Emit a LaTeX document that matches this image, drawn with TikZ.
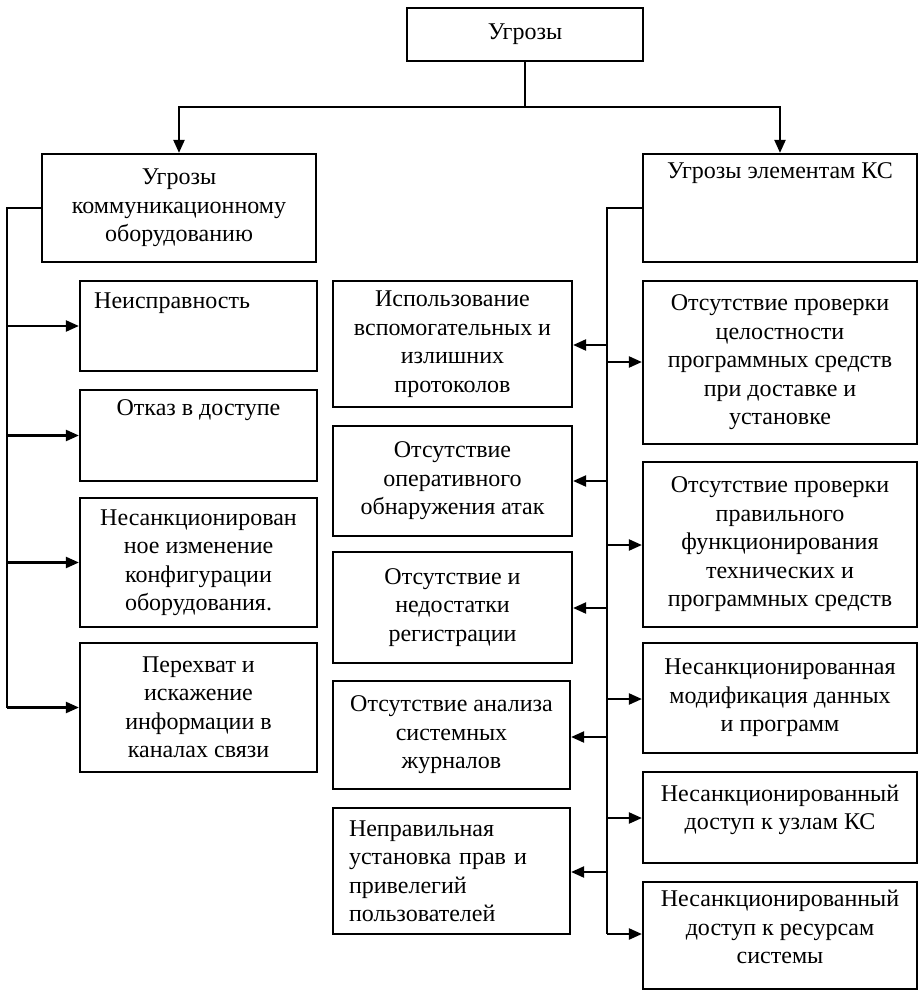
\documentclass[tikz,border=0pt]{standalone}
\usepackage{fontspec}
\setmainfont{Liberation Serif}
\usetikzlibrary{arrows.meta}
\begin{document}
\begin{tikzpicture}[x=1pt,y=-1pt,
  box/.style={draw, line width=2.2pt, inner sep=0pt, align=center, font=\fontsize{24}{28.5}\selectfont},
  txt/.style={inner sep=0pt, font=\fontsize{24}{28.5}\selectfont},
  link/.style={line width=2.2pt},
  arr/.style={line width=2.2pt, -{Triangle[length=13pt,width=11pt]}}]
\useasboundingbox (0,0) rectangle (922,1000);
% top
\node[box, minimum width=236pt, minimum height=53pt] (top) at (525,34.5) {Угрозы};
\node[box, minimum width=274pt, minimum height=108pt] (L) at (179,208) {Угрозы\\коммуникационному\\оборудованию};
\node[box, minimum width=274pt, minimum height=108pt] (R) at (780,208) {};
\node[txt, anchor=center] (Rt) at (780,173) {Угрозы элементам КС};
% left column
\node[box, minimum width=237pt, minimum height=90pt] (l1) at (198.5,326) {};
\node[txt, anchor=west] (l1t) at (94,303) {Неисправность};
\node[box, minimum width=237pt, minimum height=91pt] (l2) at (198.5,435.5) {};
\node[txt] (l2t) at (198.5,410) {Отказ в доступе};
\node[box, minimum width=237pt, minimum height=129pt] (l3) at (198.5,562.5) {Несанкционирован\\ное изменение\\конфигурации\\оборудования.};
\node[box, minimum width=237pt, minimum height=129pt] (l4) at (198.5,707.5) {Перехват и\\искажение\\информации в\\каналах связи};
% middle column
\node[box, minimum width=239pt, minimum height=126pt] (m1) at (452.5,344) {Использование\\вспомогательных и\\излишних\\протоколов};
\node[box, minimum width=239pt, minimum height=110pt] (m2) at (452.5,481) {Отсутствие\\оперативного\\обнаружения атак};
\node[box, minimum width=239pt, minimum height=111pt] (m3) at (452.5,607.5) {Отсутствие и\\недостатки\\регистрации};
\node[box, minimum width=237pt, minimum height=108pt] (m4) at (451.5,735) {Отсутствие анализа\\системных\\журналов};
\node[box, minimum width=237pt, minimum height=126pt, text width=205pt, align=left] (m5) at (451.5,871) {Неправильная\\установка прав и\\привелегий\\пользователей};
% right column
\node[box, minimum width=274pt, minimum height=163pt] (r1) at (780,362.5) {Отсутствие проверки\\целостности\\программных средств\\при доставке и\\установке};
\node[box, minimum width=274pt, minimum height=165pt] (r2) at (780,544.5) {Отсутствие проверки\\правильного\\функционирования\\технических и\\программных средств};
\node[box, minimum width=274pt, minimum height=110pt] (r3) at (780,698) {Несанкционированная\\модификация данных\\и программ};
\node[box, minimum width=274pt, minimum height=91pt] (r4) at (780,817.5) {};
\node[txt, align=center] (r4t) at (780,810) {Несанкционированный\\доступ к узлам КС};
\node[box, minimum width=274pt, minimum height=107pt] (r5) at (780,935.5) {};
\node[txt, align=center] (r5t) at (780,927) {Несанкционированный\\доступ к ресурсам\\системы};
% connectors from top
\draw[arr] (top.south) -- ++(0,45) -| (L.north);
\draw[arr] (top.south) -- ++(0,45) -| (R.north);
% left trunk
\coordinate (lt) at (7,208);
\draw[link] (L.west) -- (lt) -- (lt |- l4.west);
\foreach \n in {l1,l2,l3,l4} \draw[arr] (lt |- \n.west) -- (\n.west);
% right trunk
\coordinate (rt) at (607,208);
\draw[link] (R.west) -- (rt) -- (607,934);
\foreach \n/\y in {m1/345,m2/481,m3/608,m4/737,m5/872} \draw[arr] (607,\y) -- (\n.east |- 0,\y);
\foreach \n/\y in {r1/362,r2/545,r3/699,r4/818,r5/934} \draw[arr] (607,\y) -- (\n.west |- 0,\y);
\end{tikzpicture}
\end{document}
